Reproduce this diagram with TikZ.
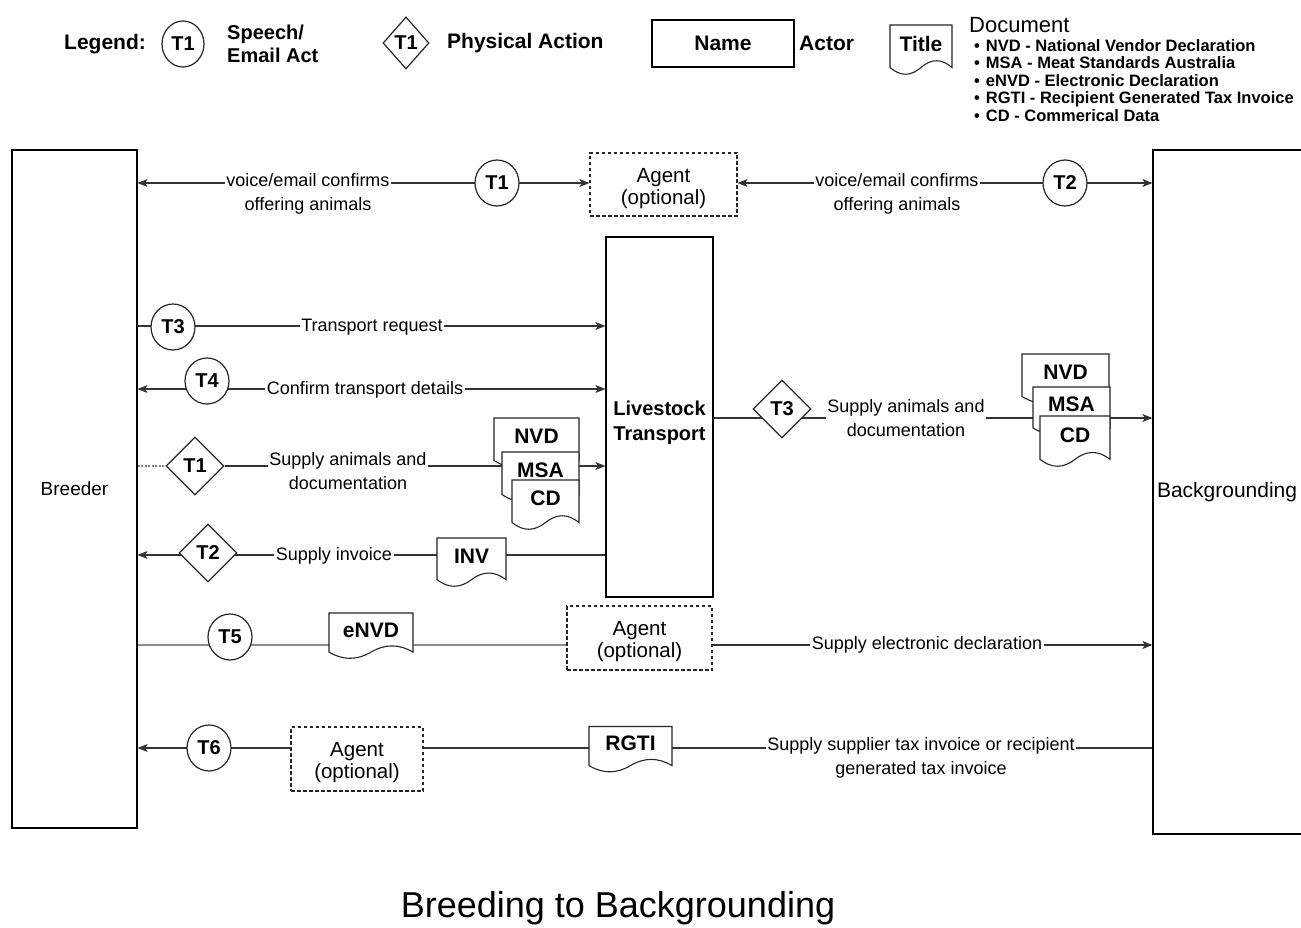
\documentclass[tikz,border=0pt]{standalone}
\usepackage{fontspec}
\setmainfont{Liberation Sans}
\usetikzlibrary{shapes.geometric,arrows.meta,calc}

\newcommand\fs[2]{\fontsize{#1}{#2}\selectfont}

\tikzset{
  actor/.style={draw=black, line width=1.2pt, fill=white, inner sep=0pt, font=\fs{19}{23}},
  agentbox/.style={draw=black!85, line width=1.2pt, dash pattern=on 3.5pt off 2.5pt, fill=white,
    align=center, font=\fs{20.5}{22}},
  conn/.style={draw=black!80, line width=1.1pt},
  greyline/.style={draw=black!45, line width=2pt},
  stub/.style={draw=black!50, line width=1.1pt, dash pattern=on 2pt off 1.5pt},
  speech/.style={draw=black!85, line width=1.2pt, fill=white, ellipse, inner sep=0pt,
    minimum width=44, minimum height=46, font=\bfseries\fs{20}{24}},
  action/.style={draw=black!85, line width=1.2pt, fill=white, diamond, inner sep=0pt,
    minimum width=58, minimum height=58, font=\bfseries\fs{20}{24}},
  lbl/.style={fill=white, inner sep=1.5pt, align=center, font=\fs{18}{23.5}},
  docline/.style={draw=black!85, line width=1.1pt, fill=white},
  doctext/.style={inner sep=0pt, font=\bfseries\fs{21}{24}},
  legendtext/.style={inner xsep=0pt, font=\bfseries\fs{21}{24}},
}

% Document symbol: box with a wavy lower edge, the title set in its upper part
\newcommand\docnode[6]{%
  \pgfmathsetmacro\docL{#2-#4/2}%
  \pgfmathsetmacro\docR{#2+#4/2}%
  \pgfmathsetmacro\docT{#3-#5/2}%
  \pgfmathsetmacro\docB{#3+#5/2}%
  \pgfmathsetmacro\docE{\docB-0.15*#5}%
  \pgfmathsetmacro\docCa{\docE+2/3*((\docB-0.42*#5)-\docE)}%
  \pgfmathsetmacro\docCb{\docE+2/3*((\docB+0.12*#5)-\docE)}%
  \pgfmathsetmacro\docSx{#4/6}%
  \draw[docline] (\docL,\docT) -- (\docR,\docT) -- (\docR,\docE)
    .. controls (\docR-\docSx,\docCa) and (#2+\docSx,\docCa) .. (#2,\docE)
    .. controls (#2-\docSx,\docCb) and (\docL+\docSx,\docCb) .. (\docL,\docE) -- cycle;
  \node[doctext] (#1) at (#2,{#3-0.13*#5}) {#6};
}

\begin{document}
\begin{tikzpicture}[x=1pt, y=-1pt, >={Stealth[length=10pt,width=8pt,inset=2.5pt]}]
\useasboundingbox (0,0) rectangle (1301,928);
\fill[white] (0,0) rectangle (1301,928);

% ---------------- legend ----------------
\node[legendtext] (lgtitle) at (105,44) {Legend:};
\node[speech, minimum width=42, minimum height=46, font=\bfseries\fs{20}{24}] (lgcircle) at (183,44) {T1};
\node[legendtext, anchor=west, align=left, font=\bfseries\fs{20}{23}] (lgspeech) at (227,44) {Speech/\\Email Act};
\node[action, minimum width=46, minimum height=52] (lgdiamond) at (406,43) {T1};
\node[legendtext, anchor=west] (lgaction) at (447,43) {Physical Action};
\node[actor, minimum width=142, minimum height=47, font=\bfseries\fs{21}{24}] (lgactorbox) at (723,43.5) {Name};
\node[legendtext, anchor=west] (lgactor) at (799,43) {Actor};
\docnode{lgdoc}{921}{50}{62}{50}{Title}
\node[anchor=west, inner xsep=0pt, font=\fs{22}{24}] (lgdocument) at (969,25) {Document};
\node[anchor=north west, inner sep=0pt, align=left, font=\bfseries\fs{16.5}{17.6}] (lglist) at (974,39)
  {\textbullet\hspace{6pt}NVD - National Vendor Declaration\\
   \textbullet\hspace{6pt}MSA - Meat Standards Australia\\
   \textbullet\hspace{6pt}eNVD - Electronic Declaration\\
   \textbullet\hspace{6pt}RGTI - Recipient Generated Tax Invoice\\
   \textbullet\hspace{6pt}CD - Commerical Data};

% ---------------- actors ----------------
\node[actor, minimum width=125, minimum height=678] (breeder) at (74.5,489) {Breeder};
\node[actor, minimum width=190, minimum height=684, text width=182, align=left, inner xsep=4pt,
  font=\fs{21}{24}] (bg) at (1248,492) {Backgrounding};
\node[actor, minimum width=107, minimum height=360, align=center, font=\bfseries\fs{20}{25}] (lt) at (659.5,417) {\rule{0pt}{26pt}Livestock\\Transport};

\node[agentbox, minimum width=147, minimum height=63] (agentA) at (663.5,184.5) {\rule{0pt}{22pt}Agent\\(optional)};
\node[agentbox, minimum width=145, minimum height=64] (agentB) at (639.5,638) {\rule{0pt}{22pt}Agent\\(optional)};
\node[agentbox, minimum width=132, minimum height=64] (agentC) at (357,759) {\rule{0pt}{22pt}Agent\\(optional)};

% ---------------- connector rows ----------------
\coordinate (rowA) at (0,183);
\coordinate (rowB) at (0,326);
\coordinate (rowC) at (0,389);
\coordinate (rowD) at (0,466);
\coordinate (rowE) at (0,555);
\coordinate (rowF) at (0,418);
\coordinate (rowG) at (0,645);
\coordinate (rowH) at (0,748);

\draw[conn,<->] (breeder.east |- rowA) -- (agentA.west |- rowA);
\draw[conn,<->] (agentA.east |- rowA) -- (bg.west |- rowA);
\draw[conn,->] (breeder.east |- rowB) -- (lt.west |- rowB);
\draw[conn,<->] (breeder.east |- rowC) -- (lt.west |- rowC);
\draw[conn,->] (lt.west |- rowE) -- (breeder.east |- rowE);
\draw[conn,->] (lt.east |- rowF) -- (bg.west |- rowF);
\draw[greyline] (breeder.east |- rowG) -- (agentB.west |- rowG);
\draw[conn,->] (agentB.east |- rowG) -- (bg.west |- rowG);
\draw[conn] (bg.west |- rowH) -- (agentC.east |- rowH);
\draw[conn,->] (agentC.west |- rowH) -- (breeder.east |- rowH);

% ---------------- acts ----------------
\node[speech] (sT1) at (497,183) {T1};
\node[speech] (sT2) at (1065,183) {T2};
\node[speech] (sT3) at (173,327) {T3};
\node[speech] (sT4) at (207,381) {T4};
\node[speech] (sT5) at (230,637) {T5};
\node[speech] (sT6) at (209,748) {T6};
\node[action] (aT1) at (195,466) {T1};
\node[action] (aT2) at (208,553) {T2};
\node[action] (aT3) at (782,409) {T3};

\draw[stub] (breeder.east |- rowD) -- (aT1.west);
\draw[conn,->] (aT1.east) -- (lt.west |- rowD);

% ---------------- documents ----------------
\docnode{nvdL}{536.5}{443}{85}{50}{NVD}
\docnode{msaL}{540.5}{477}{77}{50}{MSA}
\docnode{cdL}{545.5}{505}{67}{50}{CD}
\docnode{inv}{471.5}{562.5}{69}{49}{INV}
\docnode{nvdR}{1065.5}{379}{87}{50}{NVD}
\docnode{msaR}{1071.5}{411}{77}{48}{MSA}
\docnode{cdR}{1075}{441.5}{70}{51}{CD}
\docnode{envd}{371}{636}{84}{46}{eNVD}
\docnode{rgti}{630.5}{749.5}{83}{46}{RGTI}

% ---------------- labels ----------------
\node[lbl] (lA1) at (308,194) {voice/email confirms\\offering animals};
\node[lbl] (lA2) at (897,194) {voice/email confirms\\offering animals};
\node[lbl] (lB) at (372,327) {Transport request};
\node[lbl] (lC) at (365,390) {Confirm transport details};
\node[lbl] (lD) at (348,471) {Supply animals and\\documentation};
\node[lbl] (lE) at (334,556) {Supply invoice};
\node[lbl] (lF) at (906,418) {Supply animals and\\documentation};
\node[lbl] (lG) at (927,645) {Supply electronic declaration};
\node[lbl] (lH) at (921,758) {Supply supplier tax invoice or recipient\\generated tax invoice};

% ---------------- title ----------------
\node[font=\fs{36}{40}] (title) at (618,908) {Breeding to Backgrounding};
\end{tikzpicture}
\end{document}
